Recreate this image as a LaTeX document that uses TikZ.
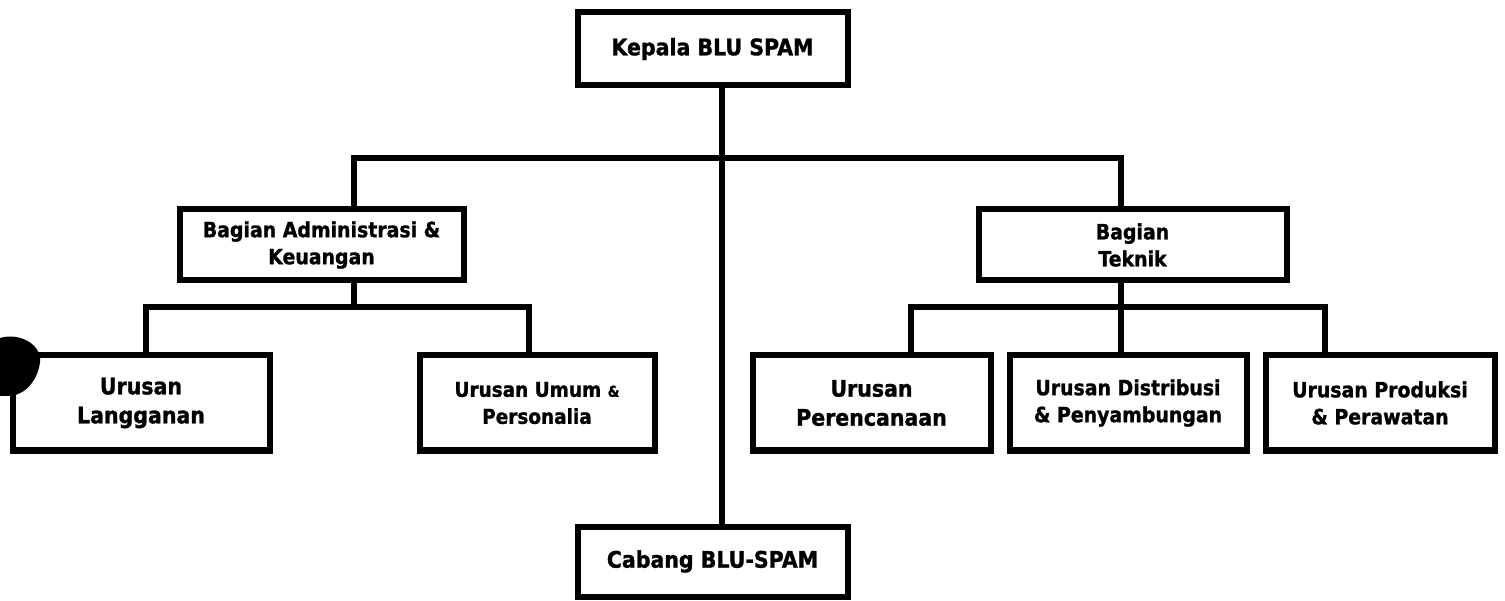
\documentclass[tikz,border=0pt]{standalone}
\usepackage{fontspec}
\setmainfont{DejaVu Sans}[FakeStretch=0.9, BoldFeatures={FakeBold=1.2}]
\begin{document}
\begin{tikzpicture}[x=1pt,y=-1pt,
  orgbox/.style={draw=black, line width=6pt, inner sep=0pt, align=center,
    font=\bfseries\fontsize{21}{27}\selectfont},
  conn/.style={draw=black, line width=6pt, line join=miter}]
\useasboundingbox[fill=white] (0,0) rectangle (1505,601);
% boxes
\node[orgbox, minimum width=270, minimum height=73, font=\bfseries\fontsize{22.8}{27}\selectfont] (kepala) at (712.5,49) {\raisebox{-3pt}{Kepala BLU SPAM}};
\node[orgbox, minimum width=270, minimum height=70, font=\bfseries\fontsize{22.8}{27}\selectfont] (cabang) at (712.5,561.5) {Cabang BLU-SPAM};
\node[orgbox, minimum width=284, minimum height=71] (admin) at (321.5,245) {Bagian Administrasi \&\\Keuangan};
\node[orgbox, minimum width=308, minimum height=71] (teknik) at (1132.5,245) {Bagian\\Teknik};
\node[orgbox, minimum width=257, minimum height=95, font=\bfseries\fontsize{22.8}{29}\selectfont] (lang) at (141,403) {Urusan\\Langganan};
\node[orgbox, minimum width=235, minimum height=95, font=\bfseries\fontsize{20.5}{27}\selectfont] (umum) at (537,403) {Urusan Umum {\fontsize{15}{27}\selectfont\&}\\Personalia};
\node[orgbox, minimum width=238, minimum height=95, font=\bfseries\fontsize{22.8}{29}\selectfont] (renc) at (871.5,403) {Urusan\\Perencanaan};
\node[orgbox, minimum width=237, minimum height=95] (dist) at (1128,403) {Urusan Distribusi\\\& Penyambungan};
\node[orgbox, minimum width=229, minimum height=95] (prod) at (1380,403) {Urusan Produksi\\\& Perawatan};
% junction points
\coordinate (spine) at (722,158);
\coordinate (at) at (354,158);
\coordinate (tt) at (1121,158);
\coordinate (ab) at (354,307);
\coordinate (lb) at (146,307);
\coordinate (ub) at (529,307);
\coordinate (rb) at (911,307);
\coordinate (tb) at (1121,307);
\coordinate (pb) at (1325,307);
% connectors
\draw[conn] (kepala.south -| spine) -- (cabang.north -| spine);
\draw[conn] (admin.north -| at) -- (at) -- (tt) -- (teknik.north -| tt);
\draw[conn] (admin.south -| ab) -- (ab);
\draw[conn] (lang.north -| lb) -- (lb) -- (ub) -- (umum.north -| ub);
\draw[conn] (teknik.south -| tb) -- (dist.north -| tb);
\draw[conn] (renc.north -| rb) -- (rb) -- (pb) -- (prod.north -| pb);
% scan blot at left edge
\fill[black] (0,338) .. controls (20,332) and (42,345) .. (40,362)
  .. controls (38,380) and (25,396) .. (8,396) -- (0,396) -- cycle;
\end{tikzpicture}
\end{document}
